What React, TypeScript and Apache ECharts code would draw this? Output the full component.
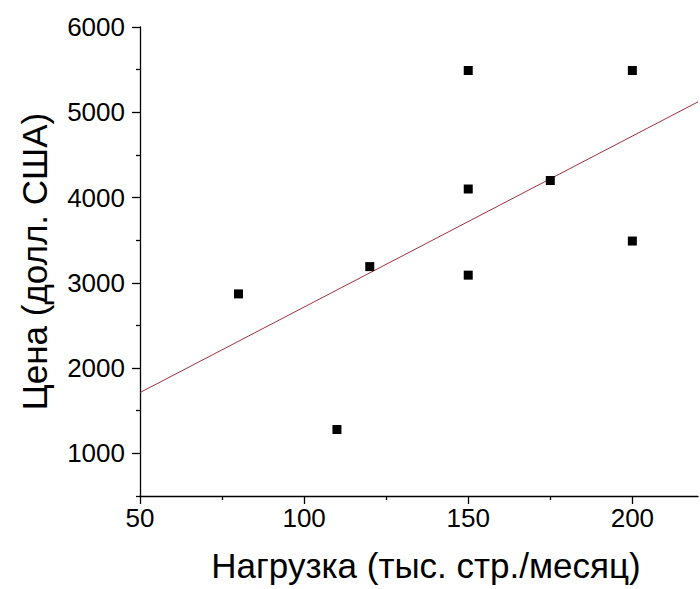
import React, { useEffect, useRef } from "react";
import * as echarts from "echarts";

const loadX: number[] = [80, 110, 120, 150, 150, 150, 175, 200, 200];
const priceY: number[] = [2870, 1280, 3190, 5490, 4100, 3090, 4200, 5490, 3490];
const fitX: number[] = [50, 220];
const fitY: number[] = [1713, 5122];
const yMajorTicks: number[] = [1000, 2000, 3000, 4000, 5000, 6000];
const yMinorTicks: number[] = [500, 1500, 2500, 3500, 4500, 5500];
const xMajorTicks: number[] = [50, 100, 150, 200];
const xMinorTicks: number[] = [75, 125, 175];

const FONT = "Liberation Sans, Arial, sans-serif";

export default function App() {
  const ref = useRef<HTMLDivElement>(null);
  useEffect(() => {
    if (!ref.current) return;
    const chart = echarts.init(ref.current, undefined, { renderer: "svg" });
    const axisLine = { show: true, onZero: false, lineStyle: { color: "#000", width: 1.3 } };
    chart.setOption({
      animation: false,
      backgroundColor: "#fff",
      grid: { left: 140, right: 2, top: 27, bottom: 93, containLabel: false },
      xAxis: [
        {
          type: "value",
          min: 50,
          max: 220,
          position: "bottom",
          axisLine,
          axisTick: { show: true, length: 8, customValues: xMajorTicks, lineStyle: { color: "#000", width: 1.3 } },
          axisLabel: {
            customValues: xMajorTicks,
            formatter: (v: number) => String(v),
            color: "#000",
            fontFamily: FONT,
            fontSize: 26,
            margin: 9,
          },
          splitLine: { show: false },
          name: "Нагрузка (тыс. стр./месяц)",
          nameLocation: "middle",
          nameGap: 52,
          nameTextStyle: { color: "#000", fontFamily: FONT, fontSize: 35, padding: [0, 0, 0, 14] },
        },
        {
          type: "value",
          min: 50,
          max: 220,
          position: "bottom",
          axisLine: { show: false, onZero: false },
          axisTick: { show: true, length: 4, customValues: xMinorTicks, lineStyle: { color: "#000", width: 1.3 } },
          axisLabel: { show: false },
          splitLine: { show: false },
        },
      ],
      yAxis: [
        {
          type: "value",
          min: 500,
          max: 6000,
          position: "left",
          axisLine,
          axisTick: { show: true, length: 8, customValues: yMajorTicks, lineStyle: { color: "#000", width: 1.3 } },
          axisLabel: {
            customValues: yMajorTicks,
            formatter: (v: number) => String(v),
            color: "#000",
            fontFamily: FONT,
            fontSize: 26,
            margin: 15,
          },
          splitLine: { show: false },
          name: "Цена (долл. США)",
          nameLocation: "middle",
          nameGap: 88,
          nameRotate: 90,
          nameTextStyle: { color: "#000", fontFamily: FONT, fontSize: 35 },
        },
        {
          type: "value",
          min: 500,
          max: 6000,
          position: "left",
          axisLine: { show: false, onZero: false },
          axisTick: { show: true, length: 4, customValues: yMinorTicks, lineStyle: { color: "#000", width: 1.3 } },
          axisLabel: { show: false },
          splitLine: { show: false },
        },
      ],
      series: [
        {
          type: "line",
          data: fitX.map((x, i) => [x, fitY[i]]),
          showSymbol: false,
          lineStyle: { color: "#a03040", width: 1 },
          silent: true,
          z: 1,
        },
        {
          type: "scatter",
          data: loadX.map((x, i) => [x, priceY[i]]),
          symbol: "rect",
          symbolSize: 9,
          itemStyle: { color: "#000", opacity: 1 },
          z: 2,
        },
      ],
    });
    return () => chart.dispose();
  }, []);
  return <div ref={ref} style={{ width: 700, height: 589, position: "absolute", left: 0, top: 0 }} />;
}
